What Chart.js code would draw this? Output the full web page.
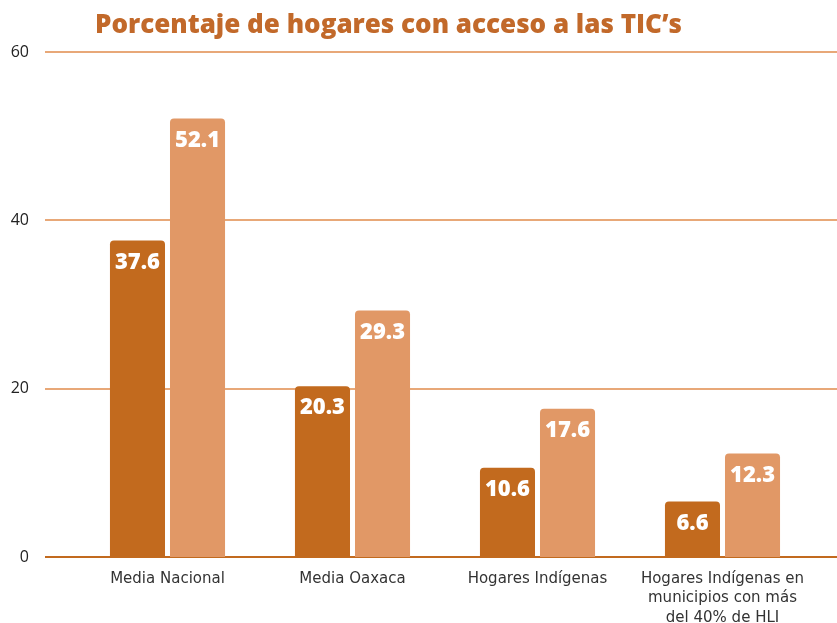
<!DOCTYPE html>
<html>
<head>
<meta charset="utf-8">
<script src="https://cdn.jsdelivr.net/npm/chart.js@4.4.1/dist/chart.umd.min.js"></script>
<style>
  html, body { margin: 0; padding: 0; background: #fff; }
  .chart-container { position: relative; width: 837px; height: 623px; }
  #title {
    position: absolute; left: 95px; top: 5px;
    font-family: 'Open Sans', sans-serif; font-weight: 800; font-size: 26px;
    color: #C2692A; white-space: nowrap;
  }
</style>
</head>
<body>
<div class="chart-container">
  <canvas id="ticChart" width="837" height="623"></canvas>
  <div id="title">Porcentaje de hogares con acceso a las TIC’s</div>
</div>
<script>
const categories = [
  'Media Nacional',
  'Media Oaxaca',
  'Hogares Indígenas',
  ['Hogares Indígenas en', 'municipios con más', 'del 40% de HLI']
];
const serieA = [37.6, 20.3, 10.6, 6.6];
const serieB = [52.1, 29.3, 17.6, 12.3];
const yTicks = [0, 20, 40, 60];

const darkColor = '#C26A1E';
const lightColor = '#E19866';

// horizontal lines across the full width, zero line darker
const gridLines = {
    id: 'gridLines',
    beforeDatasetsDraw(chart) {
        const ctx = chart.ctx;
        const y = chart.scales.y;
        ctx.save();
        yTicks.forEach(v => {
            const py = Math.round(y.getPixelForValue(v));
            ctx.beginPath();
            ctx.lineWidth = 2;
            ctx.strokeStyle = v === 0 ? darkColor : '#E8A878';
            ctx.moveTo(45, py);
            ctx.lineTo(chart.width, py);
            ctx.stroke();
        });
        ctx.restore();
    }
};

// values inside the top of each bar
const barLabels = {
    id: 'barLabels',
    afterDatasetsDraw(chart) {
        const ctx = chart.ctx;
        ctx.save();
        ctx.fillStyle = '#fff';
        ctx.font = "800 22px 'Open Sans'";
        ctx.textAlign = 'center';
        ctx.textBaseline = 'middle';
        chart.data.datasets.forEach((ds, i) => {
            chart.getDatasetMeta(i).data.forEach((bar, j) => {
                ctx.fillText(ds.data[j].toFixed(1), bar.x, bar.y + 22);
            });
        });
        ctx.restore();
    }
};

const ctx1 = document.getElementById('ticChart').getContext('2d');
const ticChart = new Chart(ctx1, {
    type: 'bar',
    data: {
        labels: categories,
        datasets: [{
            label: 'Serie A',
            data: serieA,
            backgroundColor: darkColor,
            borderRadius: { topLeft: 4, topRight: 4 },
            borderSkipped: 'bottom'
        }, {
            label: 'Serie B',
            data: serieB,
            backgroundColor: lightColor,
            borderRadius: { topLeft: 4, topRight: 4 },
            borderSkipped: 'bottom'
        }]
    },
    options: {
        responsive: false,
        animation: false,
        categoryPercentage: 0.649,
        barPercentage: 0.917,
        layout: {
            padding: { top: 52, right: 22, bottom: 0, left: 0 }
        },
        scales: {
            y: {
                min: 0,
                max: 60,
                afterFit: (scale) => { scale.width = 75; },
                afterBuildTicks: (scale) => { scale.ticks = yTicks.map(v => ({ value: v })); },
                grid: { display: false },
                border: { display: false },
                ticks: {
                    padding: 38,
                    color: '#222',
                    font: { family: 'Open Sans', size: 16 }
                }
            },
            x: {
                afterFit: (scale) => { scale.height = 66; },
                grid: { display: false },
                border: { display: false },
                ticks: {
                    padding: 4,
                    color: '#333',
                    maxRotation: 0,
                    autoSkip: false,
                    font: { family: 'DejaVu Sans', size: 15, lineHeight: 1.3 }
                }
            }
        },
        plugins: {
            legend: { display: false },
            tooltip: { enabled: false }
        }
    },
    plugins: [gridLines, barLabels]
});
</script>
</body>
</html>
